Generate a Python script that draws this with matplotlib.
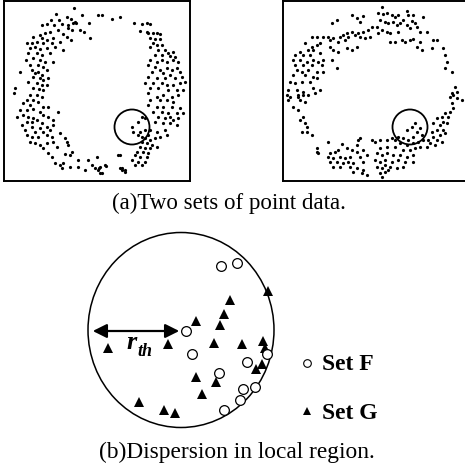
import numpy as np
import matplotlib
matplotlib.use('Agg')
from matplotlib import pyplot as plt
from matplotlib.patches import Ellipse

plt.rcParams['font.family'] = ['Liberation Serif', 'DejaVu Serif']

# point data, in pixel units of the page
ring_a = [
    (74, 8), (82, 15), (89, 23), (56, 14), (67, 17), (71, 19), (75, 22), (59, 20), (51, 20), (47, 24),
    (42, 25), (54, 25), (62, 24), (68, 25), (73, 23), (76, 23), (68, 28), (72, 30), (80, 30), (84, 32),
    (58, 30), (50, 32), (45, 33), (40, 35), (33, 37), (42, 38), (47, 40), (53, 38), (63, 34), (67, 37),
    (71, 40), (90, 38), (27, 43), (32, 43), (37, 42), (43, 43), (52, 43), (60, 42), (30, 48), (35, 47),
    (40, 49), (47, 48), (55, 47), (63, 50), (28, 53), (37, 53), (42, 55), (50, 53), (26, 60), (33, 58),
    (40, 60), (45, 62), (53, 62), (30, 65), (38, 65), (43, 67), (20, 72), (32, 70), (35, 73), (38, 72),
    (42, 75), (47, 70), (33, 77), (40, 78), (43, 80), (48, 78), (28, 82), (37, 83), (42, 85), (47, 85),
    (15, 88), (33, 88), (39, 89), (43, 90), (14, 93), (30, 95), (37, 95), (42, 97), (27, 100), (33, 100),
    (38, 102), (23, 103), (30, 105), (43, 107), (48, 107), (20, 110), (27, 110), (33, 109), (40, 112), (58, 112),
    (17, 117), (23, 115), (28, 117), (33, 118), (43, 115), (48, 117), (27, 122), (32, 122), (37, 120), (42, 123),
    (53, 120), (22, 125), (32, 127), (40, 128), (47, 127), (53, 125), (25, 130), (35, 132), (43, 132), (50, 130),
    (27, 135), (32, 137), (38, 137), (47, 135), (52, 137), (60, 133), (30, 142), (35, 143), (40, 145), (47, 143),
    (53, 142), (65, 138), (67, 142), (43, 148), (57, 147), (68, 145), (48, 153), (52, 157), (65, 154), (70, 155),
    (72, 152), (55, 163), (60, 165), (63, 163), (70, 167), (78, 160), (78, 167), (85, 170), (88, 160), (92, 165),
    (95, 168), (62, 168), (99, 168), (100, 173), (106, 166), (118, 155), (120, 168), (125, 172), (122, 170),
    (98, 15), (102, 15), (112, 19), (120, 17), (134, 23), (142, 24), (147, 23), (150, 24), (140, 31), (147, 32),
    (148, 33), (153, 33), (157, 33), (160, 34), (150, 38), (155, 39), (160, 39), (153, 43), (157, 45), (162, 45),
    (150, 47), (158, 50), (165, 50), (168, 53), (173, 52), (155, 55), (162, 55), (170, 56), (175, 57), (150, 60),
    (157, 62), (162, 60), (167, 62), (173, 60), (178, 62), (148, 65), (155, 67), (160, 70), (167, 68), (172, 70),
    (177, 68), (152, 72), (163, 73), (170, 75), (180, 72), (148, 77), (157, 78), (165, 78), (175, 78), (182, 77),
    (145, 83), (153, 83), (162, 83), (167, 85), (173, 85), (180, 83), (185, 82), (150, 88), (158, 88), (168, 90),
    (177, 90), (183, 90), (148, 93), (157, 97), (163, 95), (172, 97), (178, 95), (150, 100), (160, 100), (167, 100),
    (173, 102), (148, 105), (157, 107), (163, 107), (172, 107), (180, 108), (153, 112), (162, 112), (168, 113),
    (177, 113), (183, 113), (158, 117), (165, 118), (170, 117), (173, 120), (178, 118), (155, 122), (163, 123),
    (170, 123), (177, 125), (142, 117), (145, 118), (138, 122), (132, 127), (133, 132), (140, 132), (145, 130),
    (138, 135), (142, 137), (150, 130), (157, 132), (165, 130), (160, 137), (167, 135), (148, 135), (145, 138),
    (150, 140), (155, 138), (142, 142), (147, 143), (152, 145), (157, 147), (140, 147), (145, 148), (150, 148),
    (137, 152), (143, 152), (148, 153), (135, 155), (140, 157), (147, 157), (132, 160), (138, 162), (145, 162),
    (135, 165), (142, 165), (120, 155), (122, 168), (125, 170), (97, 157), (100, 167), (105, 165), (98, 170),
    (102, 173),
]

ring_b = [
    (382, 7), (378, 13), (383, 14), (387, 13), (392, 15), (395, 17), (398, 15), (407, 11), (408, 15), (413, 15),
    (423, 17), (363, 16), (352, 15), (357, 18), (360, 22), (337, 20), (332, 23), (380, 20), (385, 22), (388, 23),
    (393, 22), (397, 25), (400, 23), (403, 20), (412, 21), (415, 23), (417, 27), (407, 25), (410, 28), (420, 32),
    (427, 32), (372, 27), (377, 27), (382, 30), (378, 33), (387, 32), (368, 30), (363, 32), (358, 33), (355, 35),
    (360, 37), (352, 32), (347, 33), (348, 37), (343, 35), (340, 37), (345, 40), (338, 42), (333, 38), (330, 40),
    (328, 37), (323, 37), (317, 37), (312, 37), (365, 38), (370, 37), (390, 42), (395, 42), (402, 40), (405, 42),
    (410, 40), (413, 39), (420, 42), (433, 40), (437, 40), (390, 33), (398, 32), (312, 47), (317, 45), (320, 43),
    (305, 43), (308, 50), (313, 50), (300, 52), (295, 55), (303, 55), (310, 55), (320, 53), (333, 50), (338, 52),
    (347, 48), (352, 50), (357, 47), (330, 47), (417, 47), (422, 50), (432, 48), (443, 48), (445, 55), (293, 60),
    (300, 60), (307, 62), (313, 60), (318, 62), (323, 60), (332, 60), (295, 65), (303, 65), (312, 65), (322, 65),
    (297, 70), (302, 72), (308, 70), (317, 72), (293, 75), (305, 75), (313, 77), (323, 72), (337, 68), (447, 62),
    (445, 68), (452, 72), (290, 82), (295, 83), (302, 82), (310, 82), (317, 78), (288, 90), (297, 90), (303, 92),
    (313, 88), (320, 90), (455, 87), (457, 92), (452, 93), (298, 95), (287, 95), (290, 97), (298, 97), (303, 95),
    (308, 95), (315, 93), (288, 100), (300, 100), (305, 102), (293, 107), (298, 110), (303, 117), (300, 120),
    (305, 123), (307, 127), (302, 132), (307, 132), (312, 135), (450, 97), (453, 95), (457, 98), (462, 100),
    (452, 103), (453, 108), (450, 112), (445, 113), (448, 117), (442, 117), (437, 118), (443, 122), (447, 123),
    (440, 125), (433, 123), (437, 130), (443, 130), (432, 132), (440, 135), (445, 133), (433, 137), (428, 140),
    (437, 140), (442, 142), (430, 143), (435, 145), (427, 147), (407, 130), (412, 127), (415, 123), (417, 132),
    (420, 128), (422, 135), (413, 137), (408, 140), (403, 138), (398, 137), (395, 140), (400, 143), (407, 145),
    (413, 143), (418, 142), (423, 140), (328, 142), (342, 144), (358, 140), (360, 138), (357, 145), (372, 140),
    (375, 142), (380, 140), (387, 140), (392, 138), (317, 148), (317, 152), (318, 153), (330, 153), (335, 152),
    (338, 150), (347, 148), (352, 150), (357, 152), (363, 150), (380, 148), (387, 147), (395, 147), (403, 150),
    (410, 150), (415, 148), (420, 147), (328, 157), (333, 158), (340, 157), (345, 158), (350, 157), (360, 157),
    (367, 155), (377, 153), (382, 155), (387, 153), (393, 155), (400, 155), (407, 157), (413, 155), (330, 162),
    (337, 162), (343, 163), (348, 162), (353, 163), (363, 162), (375, 160), (380, 162), (385, 160), (392, 162),
    (398, 160), (405, 162), (413, 162), (333, 167), (340, 167), (350, 167), (357, 168), (363, 170), (377, 167),
    (382, 168), (385, 165), (390, 167), (397, 168), (403, 167), (353, 172), (367, 175), (380, 173), (385, 172),
    (388, 170), (382, 177), (362, 173),
]

# local region
set_f = [(221, 266), (237, 263), (186, 331), (192, 354), (247, 362), (267, 354), (219, 373),
         (243, 389), (255, 387), (240, 400), (224, 410)]
set_g = [(268, 291), (230, 300), (224, 314), (196, 321), (220, 325), (168, 344), (108, 348),
         (214, 343), (242, 344), (263, 341), (265, 348), (262, 364), (256, 369), (196, 377),
         (216, 382), (202, 394), (139, 402), (164, 410), (175, 413)]

W, H = 465, 473
fig = plt.figure(figsize=(W / 100, H / 100), dpi=100)


def panel(box):
    x0, y0, x1, y1 = box
    ax = fig.add_axes([x0 / W, 1 - y1 / H, (x1 - x0) / W, (y1 - y0) / H])
    ax.set_xlim(x0, x1)
    ax.set_ylim(y1, y0)
    ax.set_xticks([])
    ax.set_yticks([])
    for s in ax.spines.values():
        s.set_linewidth(1.4)
    return ax


ax1 = panel((4, 1, 190, 181))
pts = np.array(ring_a)
ax1.plot(pts[:, 0], pts[:, 1], 'o', color='black', ms=2.3, mew=0)
ax1.add_patch(Ellipse((132, 127), 35, 35, fill=False, lw=1.3, color='black'))

ax2 = panel((283, 1, 467, 181))
pts = np.array(ring_b)
ax2.plot(pts[:, 0], pts[:, 1], 'o', color='black', ms=2.3, mew=0)
ax2.add_patch(Ellipse((410, 127), 35, 35, fill=False, lw=1.3, color='black'))

# bottom diagram and captions on a page-sized axes
ax3 = fig.add_axes([0, 0, 1, 1])
ax3.set_xlim(0, W)
ax3.set_ylim(H, 0)
ax3.axis('off')
ax3.patch.set_alpha(0)

ax3.text(229, 203, '(a)Two sets of point data.', fontsize=16.6, ha='center', va='center')
ax3.text(237, 452, '(b)Dispersion in local region.', fontsize=16.8, ha='center', va='center')

ax3.add_patch(Ellipse((181, 330), 186, 195, fill=False, lw=1.1, color='black'))
ax3.annotate('', xy=(90, 331), xytext=(182, 331),
             arrowprops=dict(arrowstyle='<|-|>', color='black', lw=1.6, mutation_scale=21))
ax3.text(126, 349, 'r', fontsize=19, fontweight='bold', style='italic', ha='left', va='baseline')
ax3.text(137, 356, 'th', fontsize=13, fontweight='bold', style='italic', ha='left', va='baseline')

f = np.array(set_f)
g = np.array(set_g)
ax3.plot(g[:, 0], g[:, 1], '^', color='black', ms=7, mew=0)
ax3.plot(f[:, 0], f[:, 1], 'o', mfc='white', mec='black', ms=7, mew=0.9)

ax3.plot([307], [363], 'o', mfc='white', mec='black', ms=5.5, mew=0.8)
ax3.plot([307], [411], '^', color='black', ms=6, mew=0)
ax3.text(322, 370, 'Set F', fontsize=17, fontweight='bold', ha='left', va='baseline')
ax3.text(322, 419, 'Set G', fontsize=17, fontweight='bold', ha='left', va='baseline')

fig.savefig('out.png', dpi=100)
